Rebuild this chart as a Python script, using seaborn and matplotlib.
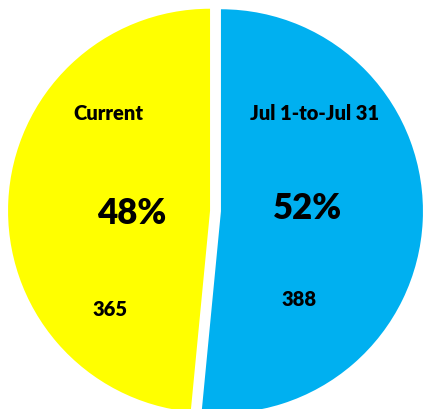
import matplotlib
matplotlib.use("Agg")
import matplotlib.pyplot as plt
import seaborn as sns

# slices in drawing order (clockwise from 12 o'clock)
categories = ["Jul 1-to-Jul 31", "Current"]
counts = [388, 365]
percent_labels = ["52%", "48%"]
slice_colors = ["#00B0F0", "#FFFF00"]

sns.set_theme(style="white")
plt.rcParams["font.family"] = ["Lato", "DejaVu Sans"]

fig = plt.figure(figsize=(4.23, 4.10), dpi=100)
ax = fig.add_axes([0, 0, 1, 1])

ax.pie(
    counts,
    colors=slice_colors,
    startangle=90,
    counterclock=False,
    explode=[0.027, 0.027],
    radius=1.0,
    wedgeprops={"linewidth": 0},
)
# window in pie units: centre sits at (215.5, 212) px, radius 202 px
ax.set_xlim(-215.5 / 202, (423 - 215.5) / 202)
ax.set_ylim((212 - 410) / 202, 212 / 202)
ax.set_aspect("auto")
ax.axis("off")

# label anchor points in pixels (x, y from top) for each slice
name_pos = [(315, 114), (108, 114)]
pct_pos = [(308, 209), (132, 214)]
count_pos = [(299, 300), (110, 310)]

for i in range(len(categories)):
    for (px, py), txt, size in (
        (name_pos[i], categories[i], 14.5),
        (pct_pos[i], percent_labels[i], 25),
        (count_pos[i], str(counts[i]), 14.5),
    ):
        ax.text(px / 423, 1 - py / 410, txt, transform=ax.transAxes,
                ha="center", va="center", fontsize=size,
                fontweight="heavy", color="black")

fig.savefig("out.png", dpi=100)
